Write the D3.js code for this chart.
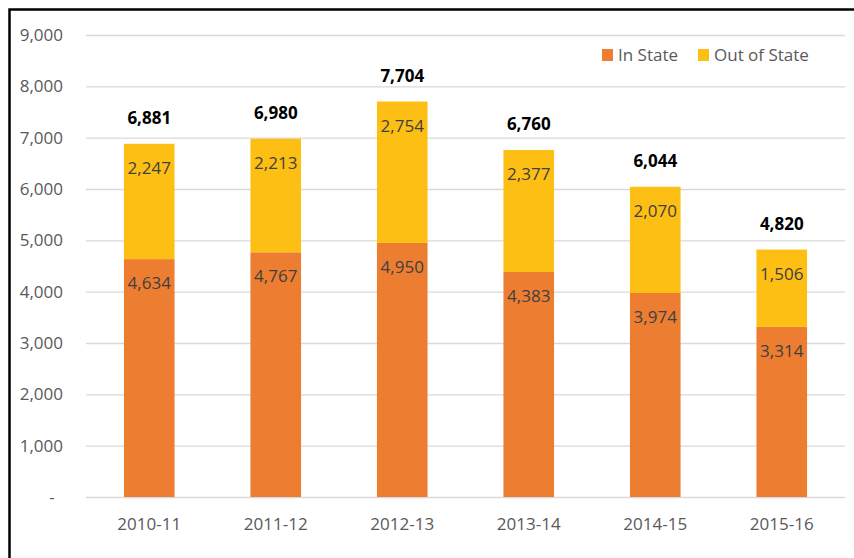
<!DOCTYPE html>
<html>
<head>
<meta charset="utf-8">
<script src="https://cdn.jsdelivr.net/npm/d3@7"></script>
<style>
  body { margin: 0; background: #fff; }
  text { font-family: "Open Sans", "Noto Sans", sans-serif; }
</style>
</head>
<body>
<div id="chart"></div>
<script>
var years = ["2010-11", "2011-12", "2012-13", "2013-14", "2014-15", "2015-16"];
var inState = [4634, 4767, 4950, 4383, 3974, 3314];
var outState = [2247, 2213, 2754, 2377, 2070, 1506];
var totals = [6881, 6980, 7704, 6760, 6044, 4820];
var yTicks = [0, 1000, 2000, 3000, 4000, 5000, 6000, 7000, 8000, 9000];
var seriesNames = ["In State", "Out of State"];
var colors = ["#ED7D31", "#FDBF13"];

var width = 854, height = 558;
var margin = {top: 35, right: 9, bottom: 61, left: 86};

var svg = d3.select("#chart")
  .append("svg")
  .attr("width", width)
  .attr("height", height);

// frame: only the top and left edges show
svg.append("path")
  .attr("d", "M9.5,600 L9.5,9.5 L860,9.5")
  .attr("fill", "none")
  .attr("stroke", "#000")
  .attr("stroke-width", 2.5);

var x = d3.scaleBand().domain(years)
  .range([margin.left, width - margin.right])
  .paddingInner(0.6).paddingOuter(0.3);
var y = d3.scaleLinear().domain([0, 9000]).range([height - margin.bottom, margin.top]);

// gridlines
svg.append("g").selectAll("line")
  .data(yTicks)
  .enter().append("line")
  .attr("x1", margin.left).attr("x2", width - margin.right)
  .attr("y1", function(d) { return y(d) + 0.5; })
  .attr("y2", function(d) { return y(d) + 0.5; })
  .attr("stroke", "#d9d9d9")
  .attr("stroke-width", 1.3);

// y axis labels
var fmt = d3.format(",");
svg.append("g").selectAll("text")
  .data(yTicks)
  .enter().append("text")
  .attr("x", function(d) { return d === 0 ? 52 : 63; })
  .attr("y", function(d) { return y(d) + 6; })
  .attr("text-anchor", function(d) { return d === 0 ? "middle" : "end"; })
  .attr("fill", "#595959")
  .style("font-size", "17px")
  .text(function(d) { return d === 0 ? "-" : fmt(d); });

// x axis labels
svg.append("g").selectAll("text")
  .data(years)
  .enter().append("text")
  .attr("x", function(d) { return x(d) + x.bandwidth() / 2; })
  .attr("y", 530)
  .attr("text-anchor", "middle")
  .attr("fill", "#595959")
  .style("font-size", "17px")
  .text(function(d) { return d; });

// stacked bars
var rows = years.map(function(yr, i) {
  return {year: yr, "In State": inState[i], "Out of State": outState[i]};
});
var stack = d3.stack().keys(seriesNames)(rows);

var layers = svg.append("g").selectAll("g")
  .data(stack)
  .enter().append("g")
  .attr("fill", function(d, i) { return colors[i]; });

layers.selectAll("rect")
  .data(function(d) { return d; })
  .enter().append("rect")
  .attr("x", function(d) { return x(d.data.year); })
  .attr("y", function(d) { return y(d[1]); })
  .attr("width", x.bandwidth())
  .attr("height", function(d) { return y(d[0]) - y(d[1]); });

// segment value labels near the top of each segment
layers.selectAll("text")
  .data(function(d) { return d; })
  .enter().append("text")
  .attr("x", function(d) { return x(d.data.year) + x.bandwidth() / 2; })
  .attr("y", function(d) { return y(d[1]) + 30; })
  .attr("text-anchor", "middle")
  .attr("fill", "#404040")
  .style("font-size", "17px")
  .text(function(d) { return fmt(d[1] - d[0]); });

// totals
svg.append("g").selectAll("text")
  .data(totals)
  .enter().append("text")
  .attr("x", function(d, i) { return x(years[i]) + x.bandwidth() / 2; })
  .attr("y", function(d) { return y(d) - 20; })
  .attr("text-anchor", "middle")
  .attr("fill", "#000")
  .style("font-size", "17px")
  .style("font-weight", "bold")
  .text(function(d) { return fmt(d); });

// legend
var legend = svg.append("g");
var legX = [602, 698];
seriesNames.forEach(function(name, i) {
  legend.append("rect")
    .attr("x", legX[i]).attr("y", 49)
    .attr("width", 11).attr("height", 12)
    .attr("fill", colors[i]);
  legend.append("text")
    .attr("x", legX[i] + 16).attr("y", 61)
    .attr("fill", "#595959")
    .style("font-size", "17px")
    .text(name);
});
</script>
</body>
</html>
